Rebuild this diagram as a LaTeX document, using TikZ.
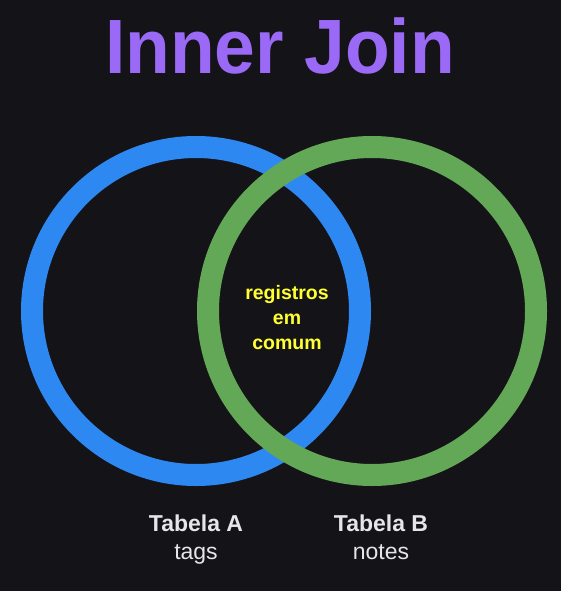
\documentclass[tikz,border=0pt]{standalone}
\usepackage{fontspec}
\setmainfont{Liberation Sans}
\definecolor{bg}{HTML}{141317}
\definecolor{setA}{HTML}{2E88F2}
\definecolor{setB}{HTML}{62A856}
\definecolor{titlecol}{HTML}{9A6AF6}
\definecolor{common}{HTML}{FFFF33}
\definecolor{labelcol}{HTML}{E6E6EA}
\begin{document}
\begin{tikzpicture}[x=1pt,y=1pt,
  ring/.style={line width=22pt},
  setlabel/.style={text=labelcol, font=\fontsize{23}{28}\selectfont, anchor=base, inner sep=0pt},
  commonlabel/.style={text=common, font=\bfseries\fontsize{19.5}{25}\selectfont, anchor=base, inner sep=0pt}]
  % canvas
  \useasboundingbox (0,0) rectangle (560,-591);
  \fill[bg] (-5,5) rectangle (565,-596);
  % title
  \node[text=titlecol, font=\bfseries\fontsize{77}{80}\selectfont, xscale=0.95, anchor=base, inner sep=0pt] (title) at (280,-74) {Inner Join};
  % the two sets, B drawn over A
  \draw[ring, setA] (196,-311) circle[radius=164];
  \draw[ring, setB] (372,-311) circle[radius=164];
  % intersection
  \node[commonlabel] (inter1) at (287,-299) {registros};
  \node[commonlabel] (inter2) at (287,-324) {em};
  \node[commonlabel] (inter3) at (287,-349) {comum};
  % captions
  \node[setlabel, font=\bfseries\fontsize{23}{28}\selectfont] (capA) at (196,-531) {Tabela A};
  \node[setlabel] (subA) at (196,-559) {tags};
  \node[setlabel, font=\bfseries\fontsize{23}{28}\selectfont] (capB) at (381,-531) {Tabela B};
  \node[setlabel] (subB) at (381,-559) {notes};
\end{tikzpicture}
\end{document}
